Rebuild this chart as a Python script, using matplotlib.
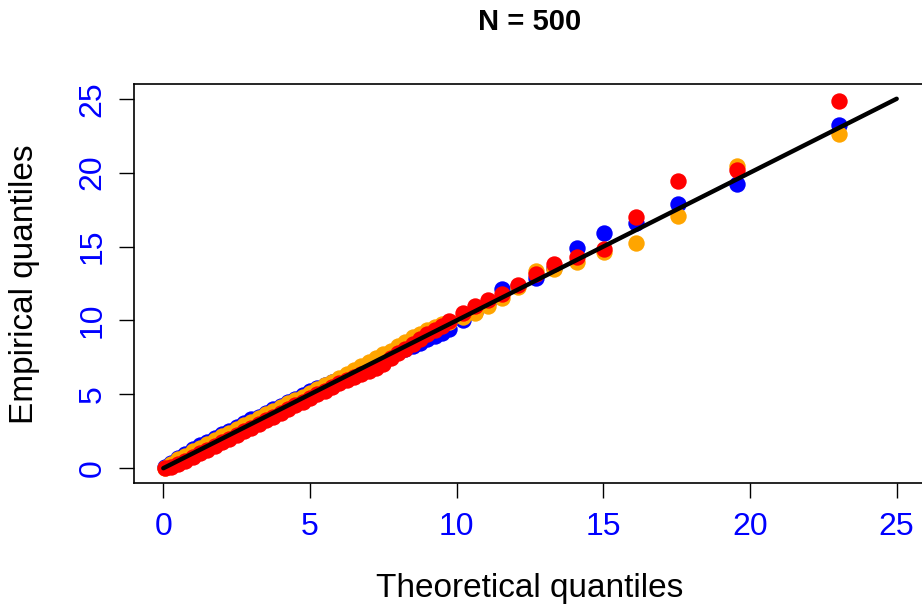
import matplotlib
matplotlib.use("Agg")
import matplotlib.pyplot as plt

# theoretical quantiles (shared by the three samples)
theo = [0.05, 0.25, 0.5, 0.75, 1.0, 1.25, 1.5, 1.75, 2.0, 2.25, 2.5, 2.75,
        3.0, 3.25, 3.5, 3.75, 4.0, 4.25, 4.5, 4.75, 5.0, 5.25, 5.5, 5.75,
        6.0, 6.25, 6.5, 6.75, 7.0, 7.25, 7.5, 7.75, 8.0, 8.25, 8.5, 8.75,
        9.0, 9.25, 9.5, 9.75, 10.2, 10.63, 11.08, 11.56, 12.08, 12.69,
        13.33, 14.09, 15.01, 16.13, 17.56, 19.57, 23.02]

emp_blue = [0.05, 0.35, 0.7, 0.95, 1.3, 1.55, 1.8, 2.05, 2.3, 2.55, 2.8, 3.05,
            3.3, 3.5, 3.75, 4.0, 4.2, 4.45, 4.7, 4.95, 5.2, 5.4, 5.6, 5.85,
            6.05, 6.3, 6.5, 6.75, 7.0, 7.2, 7.45, 7.65, 7.9, 8.1, 8.25, 8.5,
            8.75, 8.95, 9.15, 9.45, 10.0, 10.6, 11.2, 12.1, 12.3, 12.85,
            13.55, 14.88, 15.9, 16.62, 17.89, 19.24, 23.24]

emp_orange = [0.03, 0.3, 0.6, 0.85, 1.15, 1.4, 1.65, 1.9, 2.15, 2.4, 2.65, 2.9,
              3.15, 3.4, 3.65, 3.9, 4.15, 4.4, 4.6, 4.85, 5.1, 5.35, 5.6, 5.85,
              6.1, 6.35, 6.65, 6.95, 7.2, 7.45, 7.7, 7.95, 8.25, 8.55, 8.85, 9.1,
              9.35, 9.55, 9.75, 9.9, 10.2, 10.5, 11.0, 11.54, 12.24, 13.35,
              13.46, 13.98, 14.65, 15.22, 17.07, 20.46, 22.63]

emp_red = [0.0, 0.1, 0.3, 0.5, 0.75, 1.0, 1.25, 1.5, 1.75, 2.0, 2.25, 2.5,
           2.75, 3.0, 3.25, 3.5, 3.75, 4.0, 4.25, 4.5, 4.75, 5.0, 5.25, 5.5,
           5.8, 6.0, 6.2, 6.4, 6.55, 6.75, 7.05, 7.45, 7.8, 8.1, 8.4, 8.75,
           9.05, 9.35, 9.65, 9.95, 10.48, 11.0, 11.38, 11.77, 12.4, 13.12,
           13.8, 14.32, 14.81, 17.03, 19.42, 20.19, 24.86]

ref_line = [0, 25]
ticks = [0, 5, 10, 15, 20, 25]

W, H = 922, 607
fig = plt.figure(figsize=(W / 100, H / 100), dpi=100)
ax = fig.add_axes([134 / W, (H - 483) / H, (926 - 134) / W, (483 - 84) / H])

ms = 11.8
ax.plot(theo, emp_blue, "o", color="#0000FF", ms=ms, mew=0)
ax.plot(theo, emp_orange, "o", color="#FFA500", ms=ms, mew=0)
ax.plot(theo, emp_red, "o", color="#FF0000", ms=ms, mew=0)
ax.plot(ref_line, ref_line, color="black", lw=3.2, solid_capstyle="round")

ax.set_xlim(-1, 26)
ax.set_ylim(-1, 26)
ax.set_xticks(ticks)
ax.set_yticks(ticks)
for s in ax.spines.values():
    s.set_linewidth(1.2)

font = ["Liberation Sans", "DejaVu Sans"]
ax.tick_params(axis="both", direction="out", length=11, width=1.0,
               colors="black", labelcolor="#0000FF", labelsize=23)
ax.tick_params(axis="x", pad=10)
ax.tick_params(axis="y", pad=8)
for lab in ax.get_xticklabels():
    lab.set_family(font)
for lab in ax.get_yticklabels():
    lab.set_family(font)
    lab.set_rotation(90)
    lab.set_va("center")

fig.text(530 / W, 1 - 22 / H, "N = 500", ha="center", va="center",
         fontsize=21, fontweight="bold", family=font)
fig.text(530 / W, 1 - 588 / H, "Theoretical quantiles", ha="center",
         va="center", fontsize=24, family=font)
fig.text(25 / W, 1 - 284 / H, "Empirical quantiles", ha="center",
         va="center", rotation=90, fontsize=24, family=font)

plt.savefig("out.png", dpi=100)
